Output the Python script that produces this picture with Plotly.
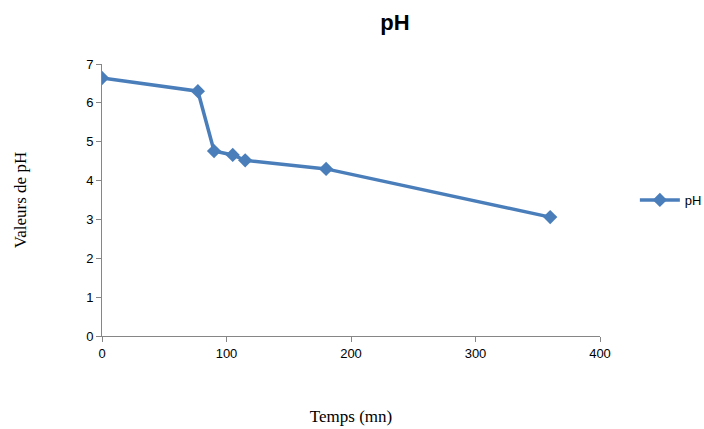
import plotly.graph_objects as go

temps = [0, 77, 90, 105, 115, 180, 360]
ph = [6.64, 6.30, 4.76, 4.66, 4.52, 4.30, 3.06]
x_ticks = [0, 100, 200, 300, 400]
y_ticks = [0, 1, 2, 3, 4, 5, 6, 7]

fig = go.Figure()
fig.add_trace(go.Scatter(
    x=temps, y=ph, mode="lines+markers", name="pH",
    line=dict(color="#4A7EBB", width=3.5),
    marker=dict(symbol="diamond", size=11, color="#4A7EBB"),
))

fig.update_layout(
    width=704, height=429,
    margin=dict(l=102, r=104, t=64, b=93, autoexpand=False),
    paper_bgcolor="white", plot_bgcolor="white",
    title=dict(text="<b>pH</b>", x=0.561, xanchor="center", y=0.948, yanchor="middle",
               font=dict(family="Liberation Sans, Arial", size=22, color="black")),
    showlegend=True,
    legend=dict(x=1.07, y=0.5, xanchor="left", yanchor="middle",
                font=dict(family="Liberation Sans, Arial", size=13, color="black"),
                itemwidth=40, bgcolor="rgba(0,0,0,0)"),
    font=dict(family="Liberation Sans, Arial", size=13, color="black"),
)

fig.update_xaxes(
    range=[0, 400], tickvals=x_ticks, showgrid=False, zeroline=False,
    showline=True, linecolor="#868686", linewidth=1,
    ticks="outside", ticklen=5, tickcolor="#868686",
    tickfont=dict(family="Liberation Sans, Arial", size=13, color="black"),
    title=dict(text="Temps (mn)", standoff=50,
               font=dict(family="Liberation Serif, Times New Roman", size=17, color="black")),
)
fig.update_yaxes(
    range=[0, 7], tickvals=y_ticks, showgrid=False, zeroline=False,
    showline=True, linecolor="#868686", linewidth=1,
    ticks="outside", ticklen=5, tickcolor="#868686",
    tickfont=dict(family="Liberation Sans, Arial", size=13, color="black"),
    title=dict(text="Valeurs de pH", standoff=55,
               font=dict(family="Liberation Serif, Times New Roman", size=17, color="black")),
)

fig.write_html("out.html")
